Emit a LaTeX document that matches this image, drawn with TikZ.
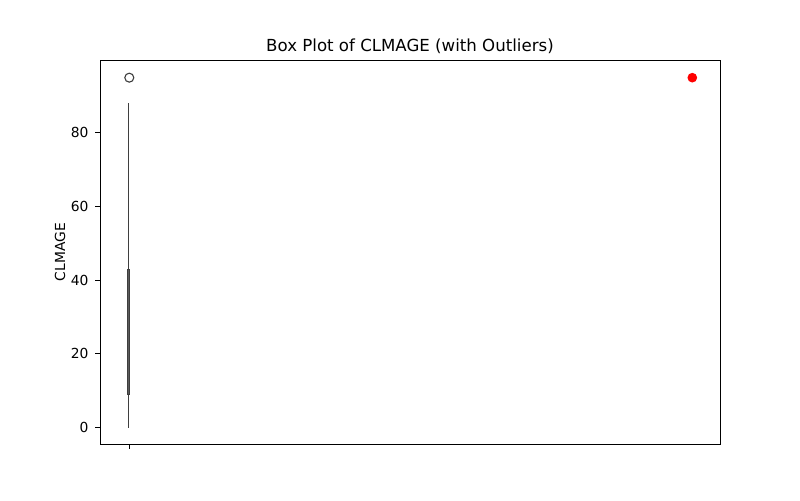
\documentclass[tikz,border=0pt]{standalone}
\usepackage{fontspec}
\setmainfont{DejaVu Sans}
\usetikzlibrary{positioning}
\tikzset{>=latex}
\definecolor{boxgray}{HTML}{3F3F3F}

\begin{document}
\begin{tikzpicture}[x=0.01in,y=-0.01in]
  \useasboundingbox (0,0) rectangle (800,500);

  % Title and axis label
  \node (title) at (410,46) {\fontsize{12}{14}\selectfont Box Plot of CLMAGE (with Outliers)};
  \node[rotate=90] (ylabel) at (60,252) {\fontsize{10}{12}\selectfont CLMAGE};

  % Frame
  \draw[line width=0.65pt] (100,60) rectangle (720,444);
  \draw[line width=0.65pt] (129,444) -- (129,449);

  % Data in value units
  \begin{scope}[shift={(0,427.5)},x=0.01in,y=0.0368in]
    % Y ticks
    \foreach \v in {0,20,...,80} {
      \draw[line width=0.65pt] (100,\v) -- (95,\v) node[left=1pt,font=\fontsize{10}{12}\selectfont] (tick\v) {\v};
    }
    % Whiskers
    \draw[boxgray,line width=1.1pt] (128.7,0) -- (128.7,9);
    \draw[boxgray,line width=1.1pt] (128.7,43) -- (128.7,88);
    \draw[boxgray,line width=1.1pt] (128.2,0) -- (129.2,0);
    \draw[boxgray,line width=1.1pt] (128.2,88) -- (129.2,88);
    % Box
    \draw[boxgray,fill=boxgray!85,line width=0.8pt] (127.5,9) rectangle (129.9,43);
    % Outliers
    \node[circle,draw=boxgray,fill=white,line width=0.8pt,inner sep=0pt,minimum size=6.5pt] (flier) at (129.3,95) {};
    \node[circle,fill=red,inner sep=0pt,minimum size=7pt] (outlier) at (692.3,95) {};
  \end{scope}
\end{tikzpicture}
\end{document}
